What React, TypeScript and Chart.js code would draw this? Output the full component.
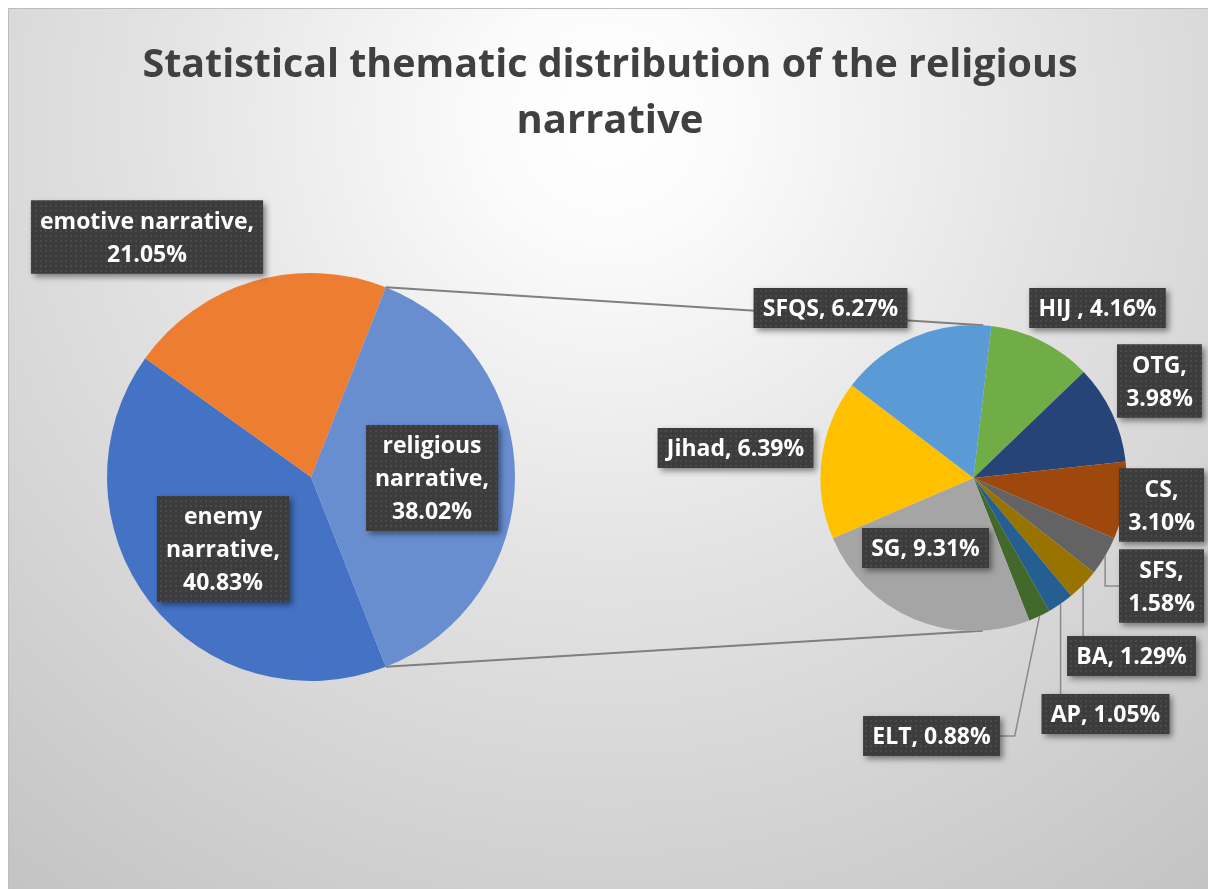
import React, { useEffect, useRef } from 'react';
import { Chart, registerables } from 'chart.js';

Chart.register(...registerables);

// ---- data -------------------------------------------------------------
const titleLines = ['Statistical thematic distribution of the religious', 'narrative'];

const primaryCategories = ['enemy narrative', 'emotive narrative', 'religious narrative'];
const primaryValues = [40.83, 21.05, 38.02];
const primaryColors = ['#4472C4', '#ED7D31', '#698ED0'];

// breakdown of "religious narrative", listed clockwise
const secondaryCategories = ['HIJ ', 'OTG', 'CS', 'SFS', 'BA', 'AP', 'ELT', 'SG', 'Jihad', 'SFQS'];
const secondaryValues = [4.16, 3.98, 3.1, 1.58, 1.29, 1.05, 0.88, 9.31, 6.39, 6.27];
const secondaryColors = ['#70AD47', '#264478', '#9E480E', '#636363', '#997300', '#255E91', '#43682B', '#A5A5A5', '#FFC000', '#5B9BD5'];

// ---- layout -----------------------------------------------------------
const W = 1200;
const H = 881;

// label box centres, relative to the centre of their pie (px)
type LabelPos = { dx: number; dy: number; wrap: number; leader?: boolean };
const primaryLabelLayout: LabelPos[] = [
  { dx: -88, dy: 72, wrap: 118 },
  { dx: -164, dy: -240, wrap: 220 },
  { dx: 121, dy: 1, wrap: 118 },
];
const secondaryLabelLayout: LabelPos[] = [
  { dx: 124, dy: -170, wrap: 300 },
  { dx: 186, dy: -97, wrap: 80 },
  { dx: 188, dy: 27, wrap: 80 },
  { dx: 188, dy: 108, wrap: 80, leader: true },
  { dx: 158, dy: 178, wrap: 300, leader: true },
  { dx: 132, dy: 236, wrap: 300, leader: true },
  { dx: -42, dy: 258, wrap: 300, leader: true },
  { dx: -48, dy: 70, wrap: 300 },
  { dx: -238, dy: -30, wrap: 300 },
  { dx: -143, dy: -170, wrap: 300 },
];

const LABEL_FONT = 'bold 23px "Open Sans", sans-serif';
const TITLE_FONT = 'bold 40px "Open Sans", sans-serif';
const LINE_H = 33;
const PAD_X = 9;
const PAD_Y = 3.5;

let boxPattern: CanvasPattern | null = null;
function getBoxPattern(ctx: CanvasRenderingContext2D) {
  if (boxPattern) return boxPattern;
  const tile = document.createElement('canvas');
  tile.width = 5;
  tile.height = 5;
  const t = tile.getContext('2d')!;
  t.fillStyle = '#3c3c3c';
  t.fillRect(0, 0, 5, 5);
  t.fillStyle = '#4a4a4a';
  t.fillRect(2, 2, 2, 2);
  boxPattern = ctx.createPattern(tile, 'repeat');
  return boxPattern;
}

function wrapText(ctx: CanvasRenderingContext2D, text: string, maxW: number) {
  const words = text.split(' ');
  const lines: string[] = [];
  let cur = '';
  for (const w of words) {
    const test = cur ? cur + ' ' + w : w;
    if (cur && ctx.measureText(test).width > maxW) {
      lines.push(cur);
      cur = w;
    } else {
      cur = test;
    }
  }
  if (cur) lines.push(cur);
  return lines;
}

function drawLabels(chart: Chart, categories: string[], values: number[], layout: LabelPos[]) {
  const ctx = chart.ctx;
  const arcs = chart.getDatasetMeta(0).data as any[];
  const cx = arcs[0].x;
  const cy = arcs[0].y;
  const R = arcs[0].outerRadius;
  ctx.save();
  ctx.font = LABEL_FONT;
  const boxes = categories.map((c, i) => {
    const text = `${c}, ${values[i].toFixed(2)}%`;
    const lines = wrapText(ctx, text, layout[i].wrap);
    const w = Math.max(...lines.map((l) => ctx.measureText(l).width)) + 2 * PAD_X;
    const h = lines.length * LINE_H + 2 * PAD_Y;
    const bx = cx + layout[i].dx;
    const by = cy + layout[i].dy;
    return { lines, l: bx - w / 2, t: by - h / 2, w, h, bx, by };
  });

  // leader lines for the thin slices
  ctx.strokeStyle = '#8a8a8a';
  ctx.lineWidth = 1.5;
  boxes.forEach((b, i) => {
    if (!layout[i].leader) return;
    const arc = arcs[i];
    const mid = (arc.startAngle + arc.endAngle) / 2;
    const ex = cx + R * Math.cos(mid);
    const ey = cy + R * Math.sin(mid);
    ctx.beginPath();
    ctx.moveTo(ex, ey);
    if (ex >= b.l && ex <= b.l + b.w) {
      ctx.lineTo(ex, b.t);
    } else if (b.l > ex) {
      ctx.lineTo(b.l - 14, b.by);
      ctx.lineTo(b.l, b.by);
    } else {
      ctx.lineTo(b.l + b.w + 15, b.by);
      ctx.lineTo(b.l + b.w, b.by);
    }
    ctx.stroke();
  });

  // boxes
  boxes.forEach((b) => {
    ctx.save();
    ctx.shadowColor = 'rgba(0,0,0,0.45)';
    ctx.shadowBlur = 6;
    ctx.shadowOffsetX = 3;
    ctx.shadowOffsetY = 3;
    ctx.fillStyle = '#3c3c3c';
    ctx.fillRect(b.l, b.t, b.w, b.h);
    ctx.restore();
    ctx.fillStyle = getBoxPattern(ctx) || '#3c3c3c';
    ctx.fillRect(b.l, b.t, b.w, b.h);
    ctx.fillStyle = '#ffffff';
    ctx.textAlign = 'center';
    ctx.textBaseline = 'alphabetic';
    b.lines.forEach((line, k) => {
      const midY = b.t + PAD_Y + LINE_H * k + LINE_H / 2;
      ctx.fillText(line, b.bx, midY + 8.3);
    });
  });
  ctx.restore();
}

function tangentPoint(px: number, py: number, cx: number, cy: number, r: number, upper: boolean) {
  const dx = px - cx;
  const dy = py - cy;
  const d = Math.hypot(dx, dy);
  const th = Math.atan2(dy, dx);
  const a = Math.acos(Math.min(1, r / d));
  const p1 = { x: cx + r * Math.cos(th + a), y: cy + r * Math.sin(th + a) };
  const p2 = { x: cx + r * Math.cos(th - a), y: cy + r * Math.sin(th - a) };
  if (upper) return p1.y < p2.y ? p1 : p2;
  return p1.y > p2.y ? p1 : p2;
}

export default function App() {
  const primaryRef = useRef<HTMLCanvasElement>(null);
  const secondaryRef = useRef<HTMLCanvasElement>(null);

  useEffect(() => {
    const totalPrimary = primaryValues.reduce((a, b) => a + b, 0);
    const otherDeg = (primaryValues[2] / totalPrimary) * 360;

    const backgroundPlugin = {
      id: 'frameBackground',
      beforeDraw(chart: Chart) {
        const ctx = chart.ctx;
        ctx.save();
        const g = ctx.createRadialGradient(600, 110, 0, 600, 110, 1000);
        g.addColorStop(0, '#ffffff');
        g.addColorStop(0.12, '#fbfbfb');
        g.addColorStop(0.45, '#e3e3e3');
        g.addColorStop(0.7, '#d4d4d4');
        g.addColorStop(1, '#c2c2c2');
        ctx.fillStyle = g;
        ctx.fillRect(0, 0, W, H);
        // top and left edges of the chart frame
        ctx.strokeStyle = '#bdbdbd';
        ctx.lineWidth = 1;
        ctx.beginPath();
        ctx.moveTo(0.5, H);
        ctx.lineTo(0.5, 0.5);
        ctx.lineTo(W, 0.5);
        ctx.stroke();
        ctx.fillStyle = '#404040';
        ctx.font = TITLE_FONT;
        ctx.textAlign = 'center';
        ctx.textBaseline = 'alphabetic';
        ctx.fillText(titleLines[0], 602, 69, 935);
        ctx.fillText(titleLines[1], 602, 125, 935);
        ctx.restore();
      },
    };

    const primaryLabelPlugin = {
      id: 'primaryLabels',
      afterDatasetsDraw(chart: Chart) {
        drawLabels(chart, primaryCategories, primaryValues, primaryLabelLayout);
      },
    };

    const primary = new Chart(primaryRef.current!, {
      type: 'pie',
      data: {
        labels: primaryCategories,
        datasets: [
          {
            data: primaryValues,
            backgroundColor: primaryColors,
            borderWidth: 0,
            hoverOffset: 0,
          },
        ],
      },
      options: {
        responsive: false,
        animation: false,
        events: [],
        rotation: 90 + otherDeg / 2,
        layout: { padding: { left: 99, right: 693, top: 265, bottom: 208 } },
        plugins: { legend: { display: false }, tooltip: { enabled: false }, title: { display: false } },
      },
      plugins: [backgroundPlugin, primaryLabelPlugin],
    });

    const connectorPlugin = {
      id: 'pieConnectors',
      beforeDatasetsDraw(chart: Chart) {
        const other = primary.getDatasetMeta(0).data[2] as any;
        const sec = chart.getDatasetMeta(0).data[0] as any;
        const ctx = chart.ctx;
        const R = other.outerRadius;
        const top = { x: other.x + R * Math.cos(other.startAngle), y: other.y + R * Math.sin(other.startAngle) };
        const bot = { x: other.x + R * Math.cos(other.endAngle), y: other.y + R * Math.sin(other.endAngle) };
        const t1 = tangentPoint(top.x, top.y, sec.x, sec.y, sec.outerRadius, true);
        const t2 = tangentPoint(bot.x, bot.y, sec.x, sec.y, sec.outerRadius, false);
        ctx.save();
        ctx.strokeStyle = '#7f7f7f';
        ctx.lineWidth = 2;
        ctx.beginPath();
        ctx.moveTo(top.x, top.y);
        ctx.lineTo(t1.x, t1.y);
        ctx.moveTo(bot.x, bot.y);
        ctx.lineTo(t2.x, t2.y);
        ctx.stroke();
        ctx.restore();
      },
      afterDatasetsDraw(chart: Chart) {
        drawLabels(chart, secondaryCategories, secondaryValues, secondaryLabelLayout);
      },
    };

    const secondary = new Chart(secondaryRef.current!, {
      type: 'pie',
      data: {
        labels: secondaryCategories,
        datasets: [
          {
            data: secondaryValues,
            backgroundColor: secondaryColors,
            borderWidth: 0,
            hoverOffset: 0,
          },
        ],
      },
      options: {
        responsive: false,
        animation: false,
        events: [],
        rotation: 6.7,
        layout: { padding: { left: 812.5, right: 81.5, top: 317, bottom: 258 } },
        plugins: { legend: { display: false }, tooltip: { enabled: false }, title: { display: false } },
      },
      plugins: [connectorPlugin],
    });

    return () => {
      secondary.destroy();
      primary.destroy();
    };
  }, []);

  return (
    <div style={{ position: 'fixed', left: 8, top: 8, width: W, height: H, overflow: 'hidden' }}>
      <canvas ref={primaryRef} width={W} height={H} style={{ position: 'absolute', left: 0, top: 0 }} />
      <canvas ref={secondaryRef} width={W} height={H} style={{ position: 'absolute', left: 0, top: 0 }} />
    </div>
  );
}
